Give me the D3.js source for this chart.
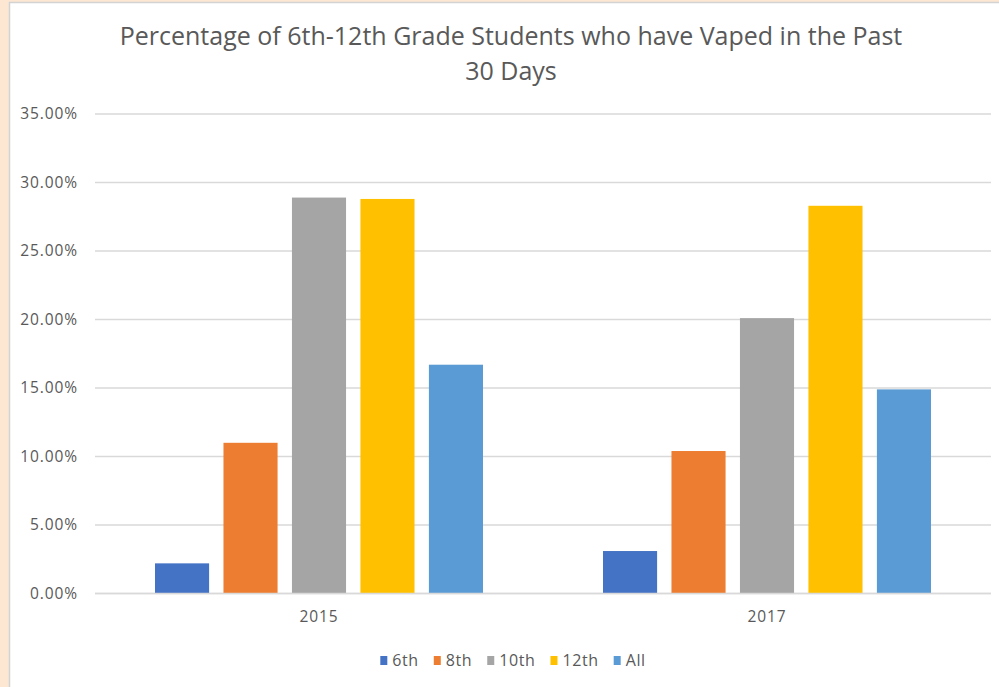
<!DOCTYPE html>
<html>
<head>
<meta charset="utf-8">
<script src="https://cdn.jsdelivr.net/npm/d3@7"></script>
<style>
  html, body { margin: 0; padding: 0; background: #fde7d3; }
  svg { display: block; }
</style>
</head>
<body>
<svg id="chart" width="999" height="687"></svg>
<script>
// Survey years and grade groups
const years = ["2015", "2017"];
const grades = ["6th", "8th", "10th", "12th", "All"];
// Percent of students who vaped in the past 30 days, one array per grade
const g6 = [2.2, 3.1];
const g8 = [11.0, 10.4];
const g10 = [28.9, 20.1];
const g12 = [28.8, 28.3];
const gAll = [16.7, 14.9];
const yTicks = [0, 5, 10, 15, 20, 25, 30, 35];
const colors = ["#4472C4", "#ED7D31", "#A5A5A5", "#FFC000", "#5B9BD5"];
const titleLines = ["Percentage of 6th-12th Grade Students who have Vaped in the Past", "30 Days"];

const seriesValues = [g6, g8, g10, g12, gAll];
const rows = years.map((yr, i) => ({
  year: yr,
  values: grades.map((g, k) => ({ grade: g, value: seriesValues[k][i], color: colors[k] }))
}));

const svg = d3.select("#chart");
const font = "'Open Sans', 'Noto Sans', sans-serif";
const textColor = "#595959";

// White chart panel with a thin grey edge
svg.append("rect")
  .attr("x", 9.5).attr("y", 2.5)
  .attr("width", 1000).attr("height", 700)
  .attr("fill", "#ffffff")
  .attr("stroke", "#d3d3d3").attr("stroke-width", 1.5);

const plot = { left: 95, right: 991, top: 114, bottom: 593.5 };

const x0 = d3.scaleBand().domain(years).range([plot.left, plot.right]);
const x1 = d3.scaleBand().domain(grades)
  .range([60, x0.bandwidth() - 60]).paddingInner(0.21);
const y = d3.scaleLinear().domain([0, 35]).range([plot.bottom, plot.top]);

// Horizontal gridlines
svg.append("g")
  .selectAll("line").data(yTicks).join("line")
  .attr("x1", plot.left).attr("x2", plot.right)
  .attr("y1", d => y(d)).attr("y2", d => y(d))
  .attr("stroke", "#d9d9d9").attr("stroke-width", 1.4);

// Y axis labels
const yAxis = d3.axisLeft(y).tickValues(yTicks)
  .tickFormat(d => d3.format(".2f")(d) + "%").tickSize(0).tickPadding(17);
const yg = svg.append("g").attr("transform", `translate(${plot.left},0)`).call(yAxis);
yg.select(".domain").remove();
yg.selectAll("text").attr("font-family", font).attr("font-size", 15.5)
  .attr("letter-spacing", 0.9).attr("fill", textColor);

// Bars
const groups = svg.append("g").selectAll("g").data(rows).join("g")
  .attr("transform", d => `translate(${x0(d.year)},0)`);
groups.selectAll("rect").data(d => d.values).join("rect")
  .attr("x", d => x1(d.grade))
  .attr("width", x1.bandwidth())
  .attr("y", d => y(d.value))
  .attr("height", d => y(0) - y(d.value))
  .attr("fill", d => d.color);

// Baseline
svg.append("line")
  .attr("x1", plot.left).attr("x2", plot.right)
  .attr("y1", y(0)).attr("y2", y(0))
  .attr("stroke", "#d9d9d9").attr("stroke-width", 1.6);

// Category axis
const xAxis = d3.axisBottom(x0).tickSize(0).tickPadding(17);
const xg = svg.append("g").attr("transform", `translate(0,${plot.bottom})`).call(xAxis);
xg.select(".domain").remove();
xg.selectAll("text").attr("font-family", font).attr("font-size", 15.5)
  .attr("letter-spacing", 0.9).attr("fill", textColor);

// Title
const title = svg.append("text")
  .attr("text-anchor", "middle")
  .attr("font-family", font).attr("font-size", 25).attr("fill", textColor);
title.selectAll("tspan").data(titleLines).join("tspan")
  .attr("x", 511).attr("y", (d, i) => 45 + i * 35)
  .text(d => d);

// Legend
const legend = svg.append("g");
const items = legend.selectAll("g").data(grades).join("g");
items.append("rect").attr("width", 7).attr("height", 9).attr("y", -10)
  .attr("fill", (d, i) => colors[i]);
items.append("text").attr("x", 12).attr("y", 0)
  .attr("font-family", font).attr("font-size", 16).attr("letter-spacing", 0.6)
  .attr("fill", textColor)
  .text(d => d);
let cx = 0;
items.each(function () {
  d3.select(this).attr("transform", `translate(${cx},0)`);
  cx += 12 + this.querySelector("text").getComputedTextLength() + 15;
});
const legendWidth = cx - 15;
legend.attr("transform", `translate(${513 - legendWidth / 2},666)`);
</script>
</body>
</html>
